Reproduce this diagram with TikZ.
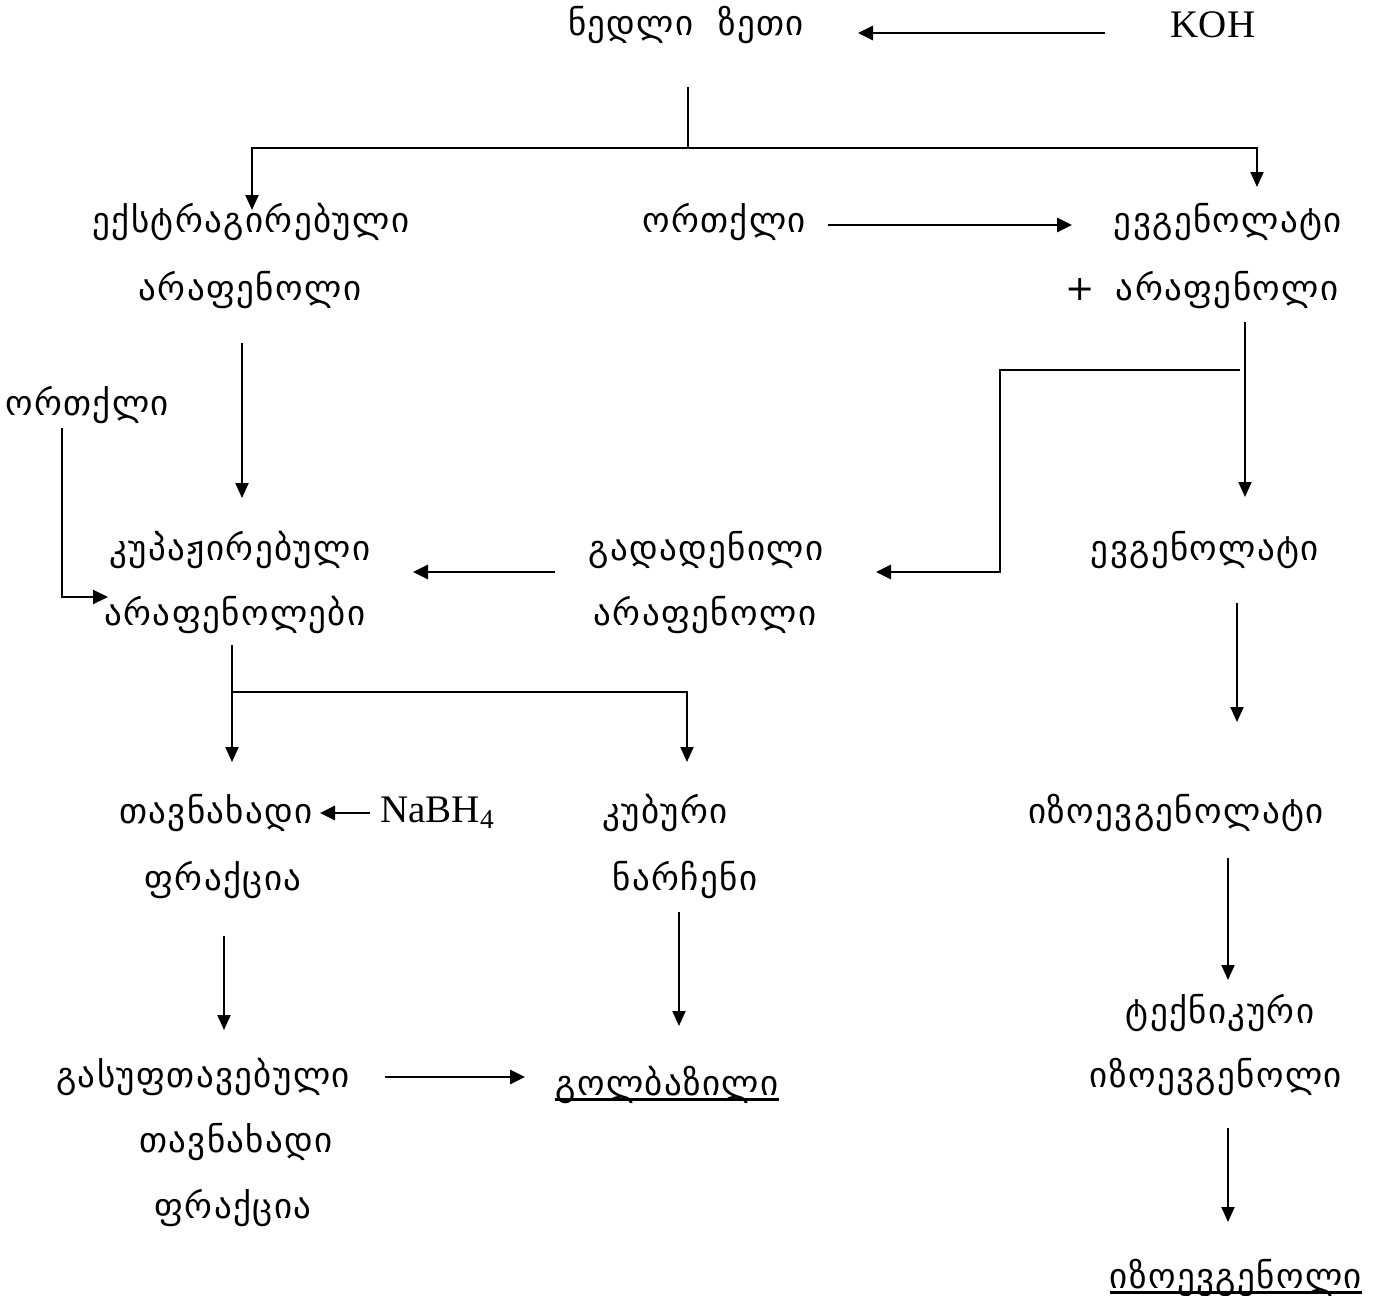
\documentclass[tikz,border=0pt]{standalone}
\usepackage{fontspec}
\setmainfont{Liberation Serif}
\newfontfamily\geo[LetterSpace=4]{DejaVu Sans}
\usetikzlibrary{arrows.meta}
\tikzset{
  lbl/.style={font=\geo\fontsize{17.5}{20}\selectfont, inner sep=0pt},
  lat/.style={font=\fontsize{19.5}{22}\selectfont, inner sep=0pt},
  arrv/.style={line width=1pt, -{Triangle[length=7.5pt,width=6.5pt]}},
  arrh/.style={line width=1.4pt, -{Triangle[length=7.5pt,width=7pt]}},
  ln/.style={line width=1pt},
  ul/.style={line width=1.2pt},
}
\begin{document}
\begin{tikzpicture}[x=0.5pt,y=-0.5pt]
\useasboundingbox (0,0) rectangle (1382,1296);
\fill[white] (0,0) rectangle (1382,1296);
% texts
\node[lbl] (raw) at (686,25) {ნედლი\hspace{0.7em}ზეთი};
\node[lat] (koh) at (1213,25) {KOH};
\node[lbl] (ext1) at (251,222) {ექსტრაგირებული};
\node[lbl] (ext2) at (250,290) {არაფენოლი};
\node[lbl] (steam1) at (724,222) {ორთქლი};
\node[lbl] (evA1) at (1228,222) {ევგენოლატი};
\node[lbl] (evA2) at (1202,290) {+\hspace{0.6em}არაფენოლი};
\node[lbl] (steam2) at (87,405) {ორთქლი};
\node[lbl] (kup1) at (240,550) {კუპაჟირებული};
\node[lbl] (kup2) at (235,615) {არაფენოლები};
\node[lbl] (gad1) at (706,550) {გადადენილი};
\node[lbl] (gad2) at (705,615) {არაფენოლი};
\node[lbl] (evB) at (1205,550) {ევგენოლატი};
\node[lbl] (tav1) at (216,813) {თავნახადი};
\node[lbl] (tav2) at (223,880) {ფრაქცია};
\node[lat,anchor=west] (nabh) at (380,813) {NaBH\textsubscript{4}};
\node[lbl] (kub1) at (665,813) {კუბური};
\node[lbl] (kub2) at (685,880) {ნარჩენი};
\node[lbl] (ize) at (1176,813) {იზოევგენოლატი};
\node[lbl] (tech1) at (1220,1013) {ტექნიკური};
\node[lbl] (tech2) at (1216,1077) {იზოევგენოლი};
\node[lbl] (izo) at (1236,1278) {იზოევგენოლი};
\node[lbl] (gas1) at (203,1077) {გასუფთავებული};
\node[lbl] (gas2) at (236,1142) {თავნახადი};
\node[lbl] (gas3) at (233,1208) {ფრაქცია};
\node[lbl] (golb) at (667,1085) {გოლბაზილი};
% underlines
\draw[ul] ([yshift=-2pt]golb.base west) -- ([yshift=-2pt]golb.base east);
\draw[ul] ([yshift=-2pt]izo.base west) -- ([yshift=-2pt]izo.base east);
% connector points
\coordinate (c1) at (1105,33); \coordinate (c2) at (858,33);
\coordinate (r0) at (688,87); \coordinate (r1) at (688,148);
\coordinate (bl) at (252,148); \coordinate (bl2) at (252,210);
\coordinate (br) at (1257,148); \coordinate (br2) at (1257,187);
\coordinate (s1) at (828,225); \coordinate (s2) at (1072,225);
\coordinate (e1) at (242,343); \coordinate (e2) at (242,498);
\coordinate (v1) at (1245,322); \coordinate (v2) at (1245,497);
\coordinate (v3) at (1240,370); \coordinate (v4) at (1000,370);
\coordinate (v5) at (1000,572); \coordinate (v6) at (876,572);
\coordinate (o1) at (62,428); \coordinate (o2) at (62,597); \coordinate (o3) at (108,597);
\coordinate (g1) at (555,572); \coordinate (g2) at (413,572);
\coordinate (k1) at (232,645); \coordinate (k2) at (232,762);
\coordinate (k3) at (232,692); \coordinate (k4) at (687,692); \coordinate (k5) at (687,762);
\coordinate (n1) at (370,813); \coordinate (n2) at (320,813);
\coordinate (t1) at (224,936); \coordinate (t2) at (224,1030);
\coordinate (u1) at (679,912); \coordinate (u2) at (679,1026);
\coordinate (gg1) at (385,1077); \coordinate (gg2) at (525,1077);
\coordinate (w1) at (1237,603); \coordinate (w2) at (1237,722);
\coordinate (w3) at (1228,858); \coordinate (w4) at (1228,980);
\coordinate (w5) at (1228,1128); \coordinate (w6) at (1228,1222);
% connectors
\draw[arrh] (c1) -- (c2);
\draw[ln] (r0) -- (r1);
\draw[arrv] (br) -- (bl) -- (bl2);
\draw[arrv] (r1) -- (br) -- (br2);
\draw[arrh] (s1) -- (s2);
\draw[arrv] (e1) -- (e2);
\draw[arrv] (v1) -- (v2);
\draw[arrh] (v3) -- (v4) -- (v5) -- (v6);
\draw[arrh,line width=1pt] (o1) -- (o2) -- (o3);
\draw[arrh] (g1) -- (g2);
\draw[arrv] (k1) -- (k2);
\draw[arrv] (k3) -- (k4) -- (k5);
\draw[arrh] (n1) -- (n2);
\draw[arrv] (t1) -- (t2);
\draw[arrv] (u1) -- (u2);
\draw[arrh] (gg1) -- (gg2);
\draw[arrv] (w1) -- (w2);
\draw[arrv] (w3) -- (w4);
\draw[arrv] (w5) -- (w6);
\end{tikzpicture}
\end{document}
